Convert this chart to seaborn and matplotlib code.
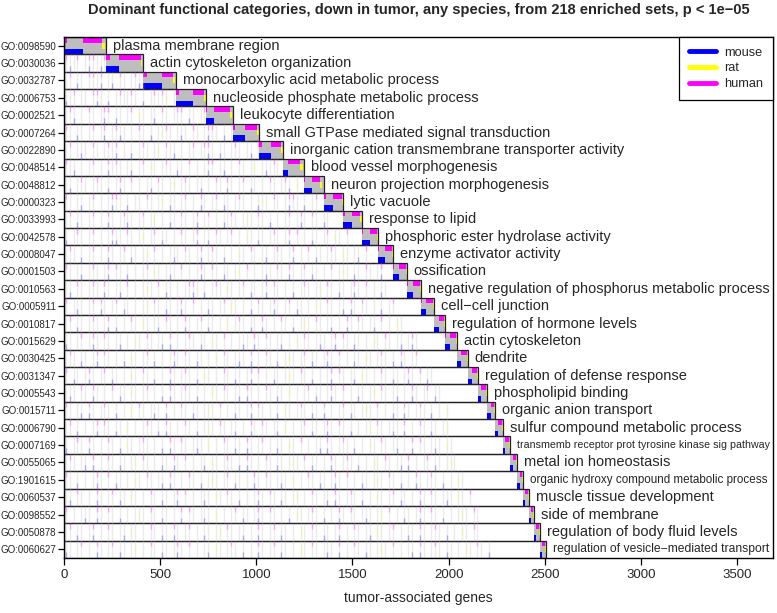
import numpy as np
import pandas as pd
import seaborn as sns
import matplotlib
matplotlib.use("Agg")
import matplotlib.pyplot as plt
from matplotlib.lines import Line2D

# Categories, top to bottom
go_ids = ["GO:0098590", "GO:0030036", "GO:0032787", "GO:0006753", "GO:0002521",
          "GO:0007264", "GO:0022890", "GO:0048514", "GO:0048812", "GO:0000323",
          "GO:0033993", "GO:0042578", "GO:0008047", "GO:0001503", "GO:0010563",
          "GO:0005911", "GO:0010817", "GO:0015629", "GO:0030425", "GO:0031347",
          "GO:0005543", "GO:0015711", "GO:0006790", "GO:0007169", "GO:0055065",
          "GO:1901615", "GO:0060537", "GO:0098552", "GO:0050878", "GO:0060627"]
terms = ["plasma membrane region", "actin cytoskeleton organization",
         "monocarboxylic acid metabolic process", "nucleoside phosphate metabolic process",
         "leukocyte differentiation", "small GTPase mediated signal transduction",
         "inorganic cation transmembrane transporter activity", "blood vessel morphogenesis",
         "neuron projection morphogenesis", "lytic vacuole", "response to lipid",
         "phosphoric ester hydrolase activity", "enzyme activator activity", "ossification",
         "negative regulation of phosphorus metabolic process", "cell\u2212cell junction",
         "regulation of hormone levels", "actin cytoskeleton", "dendrite",
         "regulation of defense response", "phospholipid binding", "organic anion transport",
         "sulfur compound metabolic process",
         "transmemb receptor prot tyrosine kinase sig pathway", "metal ion homeostasis",
         "organic hydroxy compound metabolic process", "muscle tissue development",
         "side of membrane", "regulation of body fluid levels",
         "regulation of vesicle\u2212mediated transport"]

# cumulative gene count where each category's new genes end
block_ends = [218, 411, 582, 738, 879, 1014, 1139, 1248, 1352, 1451,
              1550, 1633, 1711, 1784, 1857, 1924, 1981, 2044, 2101, 2153,
              2200, 2242, 2283, 2320, 2356, 2387, 2418, 2444, 2475, 2506]

# species make-up of each category's new genes (gene counts)
n_both = [18, 20, 20, 17, 5, 10, 15, 0, 5, 8, 10, 5, 5, 5, 3, 3, 0, 3, 0, 0,
          0, 0, 0, 0, 0, 0, 0, 0, 0, 0]
n_mouse = [82, 50, 80, 70, 35, 50, 45, 25, 35, 40, 35, 35, 30, 25, 30, 22, 28, 25, 22, 20,
           16, 18, 17, 12, 14, 14, 10, 10, 12, 12]
n_human = [100, 110, 58, 60, 85, 65, 55, 65, 45, 45, 45, 38, 38, 35, 32, 35, 25, 28, 30, 26,
           26, 18, 18, 20, 17, 12, 15, 12, 14, 14]
n_rat = [15, 10, 9, 8, 10, 8, 8, 12, 10, 6, 9, 5, 5, 8, 8, 7, 4, 7, 5, 6,
         5, 6, 6, 5, 5, 5, 6, 4, 5, 5]

# genes of earlier blocks that also belong to the category, in 20-gene bins
# '.' gray, 'h' human, 'm' mouse, 'b' mouse+human, 'y' rat, ' ' none
BIN = 20
shared_bins = [
    "",
    "hm.h .bh.mh",
    ".h m. hh.b .m h. .hm.h",
    "m.h .. hb. m .h..h. m .h.hy .m",
    ".hm . h. .bh m. .h y. .m h. .hh m. .h.",
    "h. m. .h .b .hm. . h. m .yh. .m. h. .bh. m .h",
    ".h .m. h. .h.b . m .h. .y h.m . .h .hb. m. .h. .m h.",
    "h.m . .h . b.h. .m .h y. .h. m. h . .bh .m . h. .y .m.h. h",
    ".m .h. .h. m .b. h . .m h. .y .h. .m . h. b. .h m. . h. .hm y",
    "h. .m .h . .bh. m .. h. .y m. .h . b. .h m. .h. . my. h. .bh. m .h",
    ".h m. .h . b. .hm. .h .y . m. h. .b .h . m.h. .y. h. m . .h .b. h. m.",
    "m .h. .h . .bm. h. .y .h m. . h. .b .m h. .h . y. m. .h. .b h . m. .h y. h",
    ".h. m .h . b. .h m. .y h . .m. h. .b .h. m . y. h. .m .h. .b . h m. .h. y. .m h",
    "h. .m .h. .b h. m . .h y. .m. h . .b. h. m. .y h . .m. h. b. .h m. . h .y. m. h. .b",
    ".m h. .h. b. .m h . .y. h m. . .hb. m .h. y. .h m. .b h. . m .h. .y h. m. .b. h . m.",
    "h .m. .h b. .h m. . .y h. m. .b. h . m. .h y. . m h. .b. .h m. . y. h. .m b. h. . m .h",
    ".h m. .h. .b m . h. y. .m h. . b. .h m. . y .h. m. b. . h. m .y. h. .m . b. h. .m h . y.",
    "m. .h .b. h. .m . y. h. .m b . .h. m. y. h . .m. b. h. .m . y h. .m. .b h. m. . y. h. .m .b.",
    ".h. m. .b h. . m y. .h m . .b. h. m. . y h. .m. b . h. m .y. .h m. .b. h . m. y. .h. m b. .h",
    "h m. .b. .h m. . y. h. m . b. .h. m y. . h. m. .b h . m. .y. h. m . .b h. .m y. . h. m. .b. h m.",
    ".m. h. b. . h m. y. .h . m b. .h. m . y. h. .m b. . h. m. y . .h m. .b. h . m. .y h. .m . b. .h m.",
    "h. .m b. .h. m . y h. .m. b . h. m. .y. h . m. .b h. . m y. .h. m. b . .h m. .y. h . m. b. .h. m . y",
    ".h m . .b h. m. y . .h. m b. . h. m .y. h. .m . b. h. .m y . .h m. .b. h. m . .y h. .m. b . h. m. .y",
    "m .h. b. . h. m y. .h. . m b. h. .m. y . h. m. b. .h . m. y. h . .m b. .h. m . y. h. .m . b h. .m. y.",
    ".h. .m b . h. m. .y h. . m. b. h . .m y. .h. m b. . h. m. .y. h m. . b. .h. m . y. h. .m b . .h m. .y.",
    "h. m . .b. h m. . y. h. .m b. . h. m .y. .h m. . b. h. .m. y . h. m. .b. h . m. .y. h. m . b. .h. m . y.",
    ".m h. . b. .h m. y. . h. m. .b h . .m. y. h. m . .b. h. m. .y . h. .m b. .h. m . y. .h m. . b. h. .m. y. h",
    "h . .m. b. h. m . .y. h. m. . b h. .m. y . .h m. .b. h. . m y. .h. m . b. h. .m. .y h . m. .b. h. m . .y. h.",
    ".h m. .b . h. .m y. . h. m. b. .h . m. .y h. .m . b. .h m. . y. h. m. .b . h. .m y. .h . m. b. .h. m . y. h.",
    "m. .h . b. .h m. .y . h. m. .b. h . .m y. .h. m . b. .h m. . y. h. .m. b . h. m. .y. h . .m b. .h. m. . y. h. m",
]

MOUSE, RAT, HUMAN, GRAY = "#0000FF", "#FFFF00", "#FF00FF", "#BEBEBE"

sns.set_theme(style="ticks")
plt.rcParams["font.family"] = ["Liberation Sans", "DejaVu Sans"]

fig = plt.figure(figsize=(7.77, 6.13), dpi=100)
ax = fig.add_axes([0.0824, 0.0897, 0.9125, 0.8499])

n = len(go_ids)
starts = [0] + block_ends[:-1]

for i in range(n):
    y0 = n - 1 - i
    start, end = starts[i], block_ends[i]

    # faint ticks for genes shared with earlier categories
    for k, c in enumerate(shared_bins[i]):
        x = k * BIN + BIN / 2
        if c == " " or x >= start:
            continue
        ax.vlines(x, y0, y0 + 1, color=GRAY, alpha=0.3, lw=1.0)
        if c in "hb":
            ax.vlines(x, y0 + 0.67, y0 + 1, color=HUMAN, alpha=0.28, lw=1.0)
        if c in "mb":
            ax.vlines(x, y0, y0 + 0.33, color=MOUSE, alpha=0.28, lw=1.0)
        if c == "y":
            ax.vlines(x, y0 + 0.33, y0 + 0.67, color=RAT, alpha=0.3, lw=1.0)

    # this category's own genes
    ax.barh(y0, end - start, left=start, height=1, align="edge", color=GRAY, lw=0)
    p = start
    ax.barh(y0, n_both[i], left=p, height=0.33, align="edge", color=MOUSE, lw=0)
    ax.barh(y0 + 0.67, n_both[i], left=p, height=0.33, align="edge", color=HUMAN, lw=0)
    p += n_both[i]
    ax.barh(y0, n_mouse[i], left=p, height=0.33, align="edge", color=MOUSE, lw=0)
    p += n_mouse[i]
    ax.barh(y0 + 0.67, n_human[i], left=p, height=0.33, align="edge", color=HUMAN, lw=0)
    p += n_human[i]
    ax.barh(y0 + 0.33, n_rat[i], left=p, height=0.34, align="edge", color=RAT, lw=0)

    # row outline
    ax.barh(y0, end, left=0, height=1, align="edge", fill=False,
            edgecolor="#222222", lw=0.9)

ax.set_xlim(0, 3687)
ax.set_ylim(0, n)
ax.set_yticks(np.arange(n) + 0.5)
ax.set_yticklabels(go_ids[::-1], fontsize=7)
ax.set_xticks(np.arange(0, 3501, 500))
ax.tick_params(axis="x", labelsize=9.5, length=5, width=0.9, color="black", pad=3)
ax.tick_params(axis="y", length=4, width=0.9, color="black", pad=1.5)
for s in ax.spines.values():
    s.set_color("black")
    s.set_linewidth(1.0)
ax.set_xlabel("tumor-associated genes", fontsize=10, labelpad=7)

labels = []
for i in range(n):
    t = ax.text(block_ends[i] + 35, n - 1 - i + 0.5, terms[i], fontsize=10.5,
                va="center", ha="left")
    labels.append(t)

handles = [Line2D([], [], color=MOUSE, lw=3.5),
           Line2D([], [], color=RAT, lw=3.5),
           Line2D([], [], color=HUMAN, lw=3.5)]
leg = ax.legend(handles, ["mouse", "rat", "human"], loc="upper right", fontsize=9.2,
                frameon=True, fancybox=False, borderaxespad=0, handlelength=2.1,
                handletextpad=0.7, borderpad=0.75, labelspacing=0.3, framealpha=1)
leg.get_frame().set_edgecolor("black")
leg.get_frame().set_linewidth(0.9)

fig.text(0.5387, 0.984, "Dominant functional categories, down in tumor, any species, "
         "from 218 enriched sets, p < 1e\u221205", ha="center", va="center",
         fontsize=10.5, fontweight="bold")

# shrink labels that would run past the right edge
fig.canvas.draw()
r = fig.canvas.get_renderer()
right = ax.get_window_extent(r).x1 - 4
for t in labels:
    bb = t.get_window_extent(r)
    if bb.x1 > right:
        t.set_fontsize(t.get_fontsize() * (right - bb.x0) / bb.width)

fig.savefig("out.png", dpi=100)
